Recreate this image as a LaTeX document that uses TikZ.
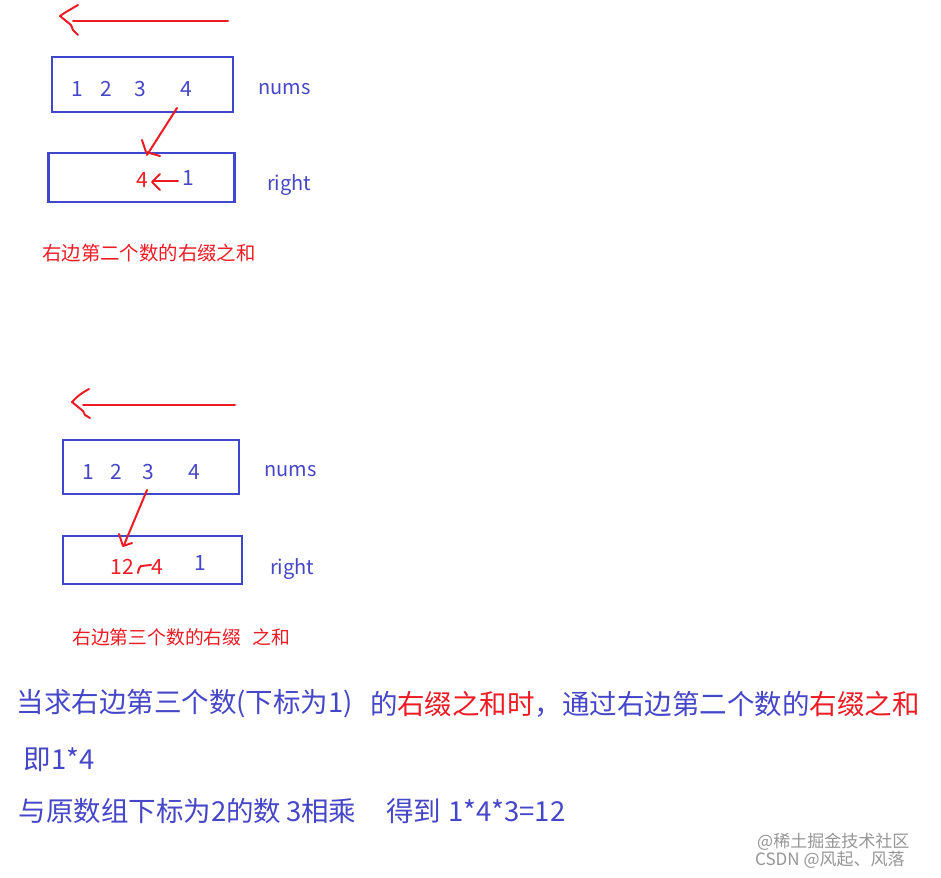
\documentclass[tikz,border=0pt]{standalone}
\usepackage{fontspec}
\setmainfont{Noto Sans CJK SC}
\definecolor{pblue}{RGB}{63,72,204}
\definecolor{tblue}{RGB}{70,70,200}
\definecolor{pred}{RGB}{237,28,36}
\definecolor{wm}{RGB}{150,150,150}
\begin{document}
\begin{tikzpicture}[x=1pt,y=-1pt,
  box/.style={draw=pblue,line width=2.4pt,minimum width=#1,inner sep=0pt},
  num/.style={text=tblue,font=\fontsize{21}{21}\selectfont,inner sep=0pt},
  rnum/.style={text=pred,font=\fontsize{21}{21}\selectfont,inner sep=0pt},
  lbl/.style={text=tblue,font=\fontsize{20}{20}\selectfont,inner sep=0pt,anchor=west},
  pen/.style={draw=pred,line width=2pt,line cap=round,line join=round},
  capt/.style={text=pred,inner sep=0pt,anchor=west},
  big/.style={inner sep=0pt,anchor=west,font=\fontsize{27.5}{27.5}\selectfont},
  wmark/.style={text=wm,inner sep=0pt,anchor=west,font=\fontsize{17}{17}\selectfont},
]
\useasboundingbox (0,0) rectangle (941,877);
\fill[white] (0,0) rectangle (941,877);

% ---------- first block ----------
\coordinate (t1s) at (228,21);
\coordinate (t1e) at (73,21);
\draw[pen] (t1s) -- (t1e);
\draw[pen] (78,5) .. controls (72,9) .. (66,12) -- (60,16) .. controls (66,20) .. (71,25) -- (73,30) -- (78,35);

\node[box=181pt,minimum height=55pt] (nums1) at (142.5,84.5) {};
\node[num] (d11) at (77,89) {1};
\node[num] (d12) at (106,89) {2};
\node[num] (d13) at (140,89) {3};
\node[num] (d14) at (186,89) {4};
\node[lbl] (ln1) at (258,89) {nums};

\node[box=186pt,minimum height=49pt] (right1) at (141.5,177.5) {};
\node[rnum] (r14) at (142,180) {4};
\node[num] (r11) at (188,178) {1};
\node[lbl] (lr1) at (267,185) {right};

\coordinate (c1a) at (177,108);
\coordinate (c1b) at (147,155);
\draw[pen] (c1a) -- (c1b);
\draw[pen] (142,140) -- (146,152) -- (160,156);

\coordinate (s1a) at (178,181);
\coordinate (s1b) at (153,181);
\draw[pen] (s1a) -- (s1b);
\draw[pen] (160,174) -- (152,182) -- (160,190);

\node[capt,font=\fontsize{19.4}{19.4}\selectfont] (cap1) at (42,253) {右边第二个数的右缀之和};

% ---------- second block ----------
\coordinate (t2s) at (235,405);
\coordinate (t2e) at (83,405);
\draw[pen] (t2s) -- (t2e);
\draw[pen] (89,389) .. controls (82,393) .. (77,397) -- (72,402) .. controls (78,406) .. (83,411) -- (85,415) -- (90,418);

\node[box=176pt,minimum height=54pt] (nums2) at (151,467) {};
\node[num] (d21) at (88,472) {1};
\node[num] (d22) at (116,472) {2};
\node[num] (d23) at (148,472) {3};
\node[num] (d24) at (194,472) {4};
\node[lbl] (ln2) at (264,471) {nums};

\node[box=179pt,minimum height=48pt] (right2) at (152.5,560) {};
\node[rnum] (r212) at (122,567) {12};
\node[rnum] (r24) at (157,567) {4};
\node[num] (r21) at (200,563) {1};
\node[lbl] (lr2) at (270,569) {right};

\coordinate (c2a) at (147,490);
\coordinate (c2b) at (124,545);
\draw[pen] (c2a) -- (c2b);
\draw[pen] (119,534) -- (123,546) -- (132,543);
\draw[pen] (138,573) .. controls (139,568) .. (141,566) -- (151,565);

\node[capt,font=\fontsize{18.8}{18.8}\selectfont] (cap2a) at (72,637) {右边第三个数的右缀};
\node[capt,font=\fontsize{18.8}{18.8}\selectfont] (cap2b) at (252,637) {之和};

% ---------- explanation ----------
\node[big,text=tblue] (l1a) at (16.5,704) {当求右边第三个数(下标为1)};
\node[big,text=tblue] (l1b) at (370.5,704) {的};
\node[big,text=pred] (l1c) at (397,704) {右缀之和时};
\node[big,text=tblue] (l1d) at (534.5,704) {，通过右边第二个数的};
\node[big,text=pred] (l1e) at (809.5,704) {右缀之和};

\node[big,text=tblue] (l2) at (23.5,760) {即1*4};

\node[big,text=tblue] (l3a) at (18.5,811) {与原数组下标为2的数};
\node[big,text=tblue] (l3b) at (286,811) {3相乘};
\node[big,text=tblue] (l3c) at (386,811) {得到};
\node[big,text=tblue] (l3d) at (448,811) {1*4*3=12};

% ---------- watermark ----------
\node[wmark] (w1) at (757,842) {@稀土掘金技术社区};
\node[wmark] (w2) at (755,860) {CSDN @风起、风落};
\end{tikzpicture}
\end{document}
